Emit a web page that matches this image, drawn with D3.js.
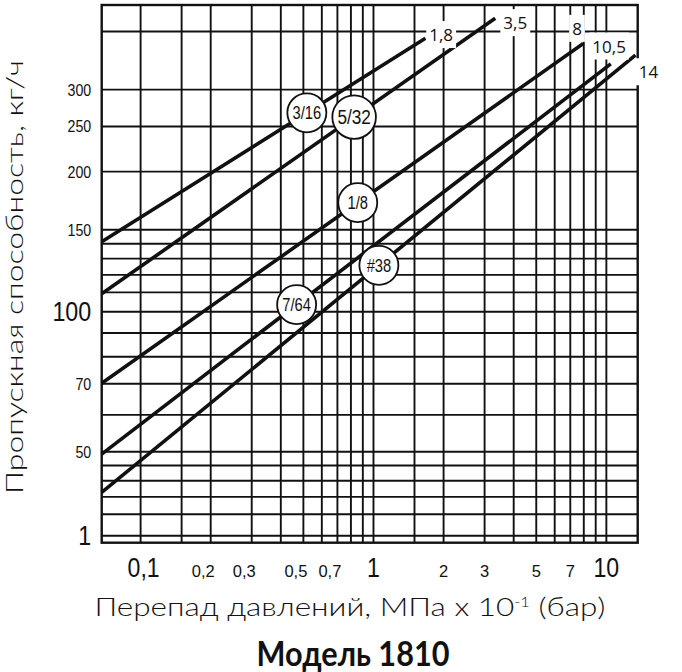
<!DOCTYPE html>
<html>
<head>
<meta charset="utf-8">
<script src="https://cdn.jsdelivr.net/npm/d3@7"></script>
<style>
  body { margin: 0; background: #fff; }
  svg { display: block; }
</style>
</head>
<body>
<svg id="chart" width="682" height="672"></svg>
<script>
// orifice curves (log-log)
var orifices   = ["3/16", "5/32", "1/8", "7/64", "#38"];
var maxDrop    = ["1,8", "3,5", "8", "10,5", "14"];
var dpStart    = [0.0684, 0.0684, 0.0684, 0.0684, 0.0684];
var flowStart  = [141, 109, 70, 49.3, 40.8];
var dpEnd      = [1.68, 3.35, 8.0, 10.5, 13.4];
var flowEnd    = [386, 426, 376, 340, 355];
var badgeDp    = [0.52, 0.83, 0.86, 0.47, 1.06];

// grid + tick labels
var xGrid = [0.1, 0.15, 0.2, 0.3, 0.4, 0.5, 0.6, 0.7, 0.8, 0.9, 1, 1.5, 2, 3, 4, 5, 6, 7, 8, 9, 10];
var yGrid = [400, 300, 250, 200, 150, 140, 130, 120, 110, 100, 90, 80, 70, 60, 50, 46.7, 43.3, 40, 36.7, 33];
var xTickVals  = [0.1, 0.2, 0.3, 0.5, 0.7, 1, 2, 3, 5, 7, 10];
var xTickText  = ["0,1", "0,2", "0,3", "0,5", "0,7", "1", "2", "3", "5", "7", "10"];
var yTickVals  = [300, 250, 200, 150, 100, 70, 50, 33];
var yTickText  = ["300", "250", "200", "150", "100", "70", "50", "1"];
var bigTicks   = ["0,1", "1", "10", "100"];

var svg = d3.select("#chart")
var margin = {top: 5, left: 101.7, right: 44.3, bottom: 129.3}
var width = 682, height = 672
var innerW = width - margin.left - margin.right
var innerH = height - margin.top - margin.bottom

var xScale = d3.scaleLog().domain([0.0684, 13.7]).range([margin.left, width - margin.right])
var yScale = d3.scaleLog().domain([31.8, 455]).range([height - margin.bottom, margin.top])

var sans = "'Liberation Sans', Arial, sans-serif"

// squeeze text horizontally, poor man's Arial Narrow
function squeeze(sel, f) {
  sel.each(function() {
    var w = this.getComputedTextLength()
    d3.select(this).attr("textLength", w * f).attr("lengthAdjust", "spacingAndGlyphs")
  })
}

// grid lines
svg.append("g")
    .attr("class", "x grid")
    .attr("transform", "translate(0," + (height - margin.bottom) + ")")
    .call(d3.axisBottom(xScale).tickValues(xGrid).tickSize(-innerH).tickFormat(""))
    .call(function(g) { g.select(".domain").remove() })
    .selectAll("line")
      .attr("stroke", "#111")
      .attr("stroke-width", 1.9);

svg.append("g")
    .attr("class", "y grid")
    .attr("transform", "translate(" + margin.left + ",0)")
    .call(d3.axisLeft(yScale).tickValues(yGrid).tickSize(-innerW).tickFormat(""))
    .call(function(g) { g.select(".domain").remove() })
    .selectAll("line")
      .attr("stroke", "#111")
      .attr("stroke-width", 1.9);

// frame
svg.append("rect")
    .attr("x", margin.left)
    .attr("y", margin.top)
    .attr("width", innerW)
    .attr("height", innerH)
    .attr("fill", "none")
    .attr("stroke", "#111")
    .attr("stroke-width", 2.4);

// tick labels
var xLab = svg.append("g")
    .attr("class", "x axis")
    .attr("transform", "translate(0," + (height - margin.bottom) + ")")
    .call(d3.axisBottom(xScale).tickValues(xTickVals).tickSize(0)
      .tickFormat(function(d, i) { return xTickText[i]; }))
xLab.select(".domain").remove()
xLab.selectAll("text")
    .attr("y", 34.5)
    .attr("dy", 0)
    .attr("fill", "#111")
    .style("font-family", sans)
    .style("font-size", function(d, i) { return bigTicks.indexOf(xTickText[i]) >= 0 ? "27.5px" : "16.5px"; })
    .attr("dx", function(d, i) {
      var t = xTickText[i]
      if (t.indexOf(",") < 0) return 0
      return bigTicks.indexOf(t) >= 0 ? 3 : -7.5
    });
squeeze(xLab.selectAll("text").filter(function(d, i) { return bigTicks.indexOf(xTickText[i]) >= 0; }), 0.84)

var yLab = svg.append("g")
    .attr("class", "y axis")
    .attr("transform", "translate(" + margin.left + ",0)")
    .call(d3.axisLeft(yScale).tickValues(yTickVals).tickSize(0)
      .tickFormat(function(d, i) { return yTickText[i]; }))
yLab.select(".domain").remove()
yLab.selectAll("text")
    .attr("x", -10.5)
    .attr("dy", "0.36em")
    .attr("fill", "#111")
    .style("font-family", sans)
    .style("font-size", function(d, i) {
      var t = yTickText[i]
      return (t == "100" || t == "1") ? "27px" : "16.5px";
    });
squeeze(yLab.selectAll("text"), 0.86)

// curves
var rows = orifices.map(function(name, i) {
  return {
    name: name, max: maxDrop[i],
    pts: [{dp: dpStart[i], q: flowStart[i]}, {dp: dpEnd[i], q: flowEnd[i]}],
    badge: badgeDp[i]
  }
})

var line = d3.line()
    .x(function(d) { return xScale(d.dp); })
    .y(function(d) { return yScale(d.q); })

svg.append("g").selectAll("path")
  .data(rows)
  .enter().append("path")
    .attr("d", function(d) { return line(d.pts); })
    .attr("fill", "none")
    .attr("stroke", "#111")
    .attr("stroke-width", 3.6)
    .attr("stroke-linecap", "butt");

// flow on a curve at given dp (straight line in log-log)
function flowAt(r, dp) {
  var a = r.pts[0], b = r.pts[1]
  var t = (Math.log(dp) - Math.log(a.dp)) / (Math.log(b.dp) - Math.log(a.dp))
  return Math.exp(Math.log(a.q) + t * (Math.log(b.q) - Math.log(a.q)))
}

// max pressure labels at curve ends
var endOffset = [[15.7, -3.3], [20, 4.7], [-6.3, -14.8], [-1.7, -17.5], [13, 17]]
var endLab = svg.append("g").selectAll("g")
  .data(rows)
  .enter().append("g")
    .attr("transform", function(d, i) {
      var e = d.pts[1]
      return "translate(" + [xScale(e.dp) + endOffset[i][0], yScale(e.q) + endOffset[i][1]] + ")"
    })
endLab.append("rect").attr("fill", "#fff")
endLab.append("text")
    .attr("text-anchor", "middle")
    .attr("dy", "0.36em")
    .attr("fill", "#111")
    .style("font-family", "'Open Sans', 'Noto Sans', sans-serif")
    .style("font-size", "17px")
    .text(function(d) { return d.max; })
endLab.each(function() {
  var g = d3.select(this)
  var bb = g.select("text").node().getBBox()
  g.select("rect")
    .attr("x", bb.x - 3).attr("y", bb.y - 2)
    .attr("width", bb.width + 6).attr("height", bb.height + 4)
})

// orifice badges
var badge = svg.append("g").selectAll("g")
  .data(rows)
  .enter().append("g")
    .attr("transform", function(d) {
      return "translate(" + [xScale(d.badge), yScale(flowAt(d, d.badge))] + ")"
    })
badge.append("circle")
    .attr("r", function(d) { return d.name == "5/32" ? 21.8 : 19.5; })
    .attr("fill", "#fff")
    .attr("stroke", "#111")
    .attr("stroke-width", 1.8)
var badgeText = badge.append("text")
    .attr("text-anchor", "middle")
    .attr("dy", "0.36em")
    .attr("fill", "#111")
    .style("font-family", sans)
    .style("font-size", function(d) { return d.name == "5/32" ? "20.5px" : "17.5px"; })
    .text(function(d) { return d.name; })
squeeze(badgeText, 0.84)

// titles
var geo = "Lato, 'Noto Sans', sans-serif"
svg.append("text")
    .attr("transform", "translate(" + [23, 277] + ")rotate(-90)")
    .attr("text-anchor", "middle")
    .attr("fill", "#111")
    .attr("textLength", 434)
    .attr("lengthAdjust", "spacingAndGlyphs")
    .style("font-family", geo)
    .style("font-weight", 300)
    .style("font-size", "24px")
    .text("Пропускная способность, кг/ч");

var xt = svg.append("text")
    .attr("x", 350)
    .attr("y", 615.7)
    .attr("text-anchor", "middle")
    .attr("fill", "#111")
    .attr("textLength", 511)
    .attr("lengthAdjust", "spacingAndGlyphs")
    .style("font-family", geo)
    .style("font-weight", 300)
    .style("font-size", "25px")
xt.append("tspan").text("Перепад давлений, МПа x 10")
xt.append("tspan").attr("dy", -9).style("font-size", "13px").text("-1")
xt.append("tspan").attr("dy", 9).text(" (бар)")

svg.append("text")
    .attr("x", 353)
    .attr("y", 666)
    .attr("text-anchor", "middle")
    .attr("fill", "#111")
    .attr("textLength", 193)
    .attr("lengthAdjust", "spacingAndGlyphs")
    .style("font-family", geo)
    .style("font-weight", 700)
    .style("font-size", "34px")
    .text("Модель 1810");
</script>
</body>
</html>
